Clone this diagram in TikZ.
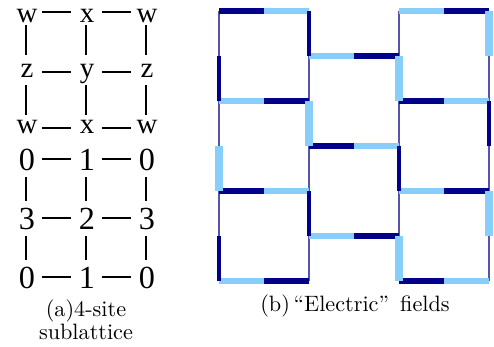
\documentclass[tikz,border=0pt]{standalone}
\usepackage{fontspec}
\newfontfamily\timesf{Liberation Serif}
\definecolor{fdark}{RGB}{0,0,139}
\definecolor{flight}{RGB}{135,206,250}
\definecolor{fthin}{RGB}{85,85,175}
\begin{document}
\begin{tikzpicture}[x=0.45pt,y=-0.45pt,
  letter/.style={anchor=base,inner sep=0pt,font=\timesf\fontsize{13}{15}\selectfont},
  digit/.style={anchor=base,inner sep=0pt,font=\timesf\fontsize{14.5}{16}\selectfont},
  conn/.style={line width=1.3pt,black},
  thinl/.style={line width=0.6pt,fthin},
  hd/.style={line width=2.5pt,fdark},
  hl/.style={line width=2.5pt,flight},
  vd/.style={line width=1.6pt,fdark},
  vl/.style={line width=3.4pt,flight},
  captext/.style={anchor=base,inner sep=0pt,font=\fontsize{10}{12}\selectfont}]
\useasboundingbox (0,0) rectangle (494,346);
% ---------- (a) ----------
\foreach \r/\y/\a/\b/\c in {A/22/w/x/w, B/77/z/y/z, C/133/w/x/w}{
  \node[letter] (\r1) at (27,\y) {\a};
  \node[letter] (\r2) at (87,\y) {\b};
  \node[letter] (\r3) at (147,\y) {\c};
}
\foreach \r/\y/\a/\b/\c in {D/170/0/1/0, E/229/3/2/3, F/288/0/1/0}{
  \node[digit] (\r1) at (27,\y) {\a};
  \node[digit] (\r2) at (87,\y) {\b};
  \node[digit] (\r3) at (147,\y) {\c};
}
\foreach \y in {12,72,128,159,218,277}{
  \draw[conn] (42,\y) -- (71,\y);
  \draw[conn] (102,\y) -- (131,\y);
}
\foreach \x in {26,86,146}{
  \draw[conn] (\x,25) -- (\x,55);
  \draw[conn] (\x,85) -- (\x,115);
  \draw[conn] (\x,177) -- (\x,201);
  \draw[conn] (\x,236) -- (\x,260);
}
\node[captext] (capa1) at (86,316) {(a)4-site};
\node[captext] (capa2) at (86,339) {sublattice};
% ---------- (b) ----------
% thin base lines
\foreach \x in {219,309,399,489}{ \draw[thinl] (\x,11) -- (\x,281); }
\foreach \y in {11,101,191,281}{
  \draw[thinl] (219,\y) -- (309,\y);
  \draw[thinl] (399,\y) -- (489,\y);
}
\foreach \y in {56,146,236}{ \draw[thinl] (309,\y) -- (399,\y); }
% horizontal fields
\foreach \xa/\xb/\y/\s in {
  219/264/11/hd, 264/309/11/hl,
  219/264/101/hl, 264/309/101/hd,
  219/264/191/hd, 264/309/191/hl,
  219/264/281/hl, 264/309/281/hd,
  309/354/56/hl, 354/399/56/hd,
  309/354/146/hd, 354/399/146/hl,
  309/354/236/hl, 354/399/236/hd,
  399/444/11/hl, 444/489/11/hd,
  399/444/101/hd, 444/489/101/hl,
  399/444/191/hl, 444/489/191/hd,
  399/444/281/hd, 444/489/281/hl}{
  \draw[\s] (\xa,\y) -- (\xb,\y);
}
% vertical fields
\foreach \x/\ya/\yb/\s in {
  219/56/101/vd, 219/146/191/vl, 219/236/281/vd,
  309/11/56/vd, 309/101/146/vl, 309/191/236/vd,
  399/56/101/vl, 399/146/191/vd, 399/236/281/vl,
  489/11/56/vl, 489/101/146/vd, 489/191/236/vl}{
  \draw[\s] (\x,\ya) -- (\x,\yb);
}
\node[captext] (capb) at (355,311) {(b)\,``Electric''\ \,fields};
\end{tikzpicture}
\end{document}
